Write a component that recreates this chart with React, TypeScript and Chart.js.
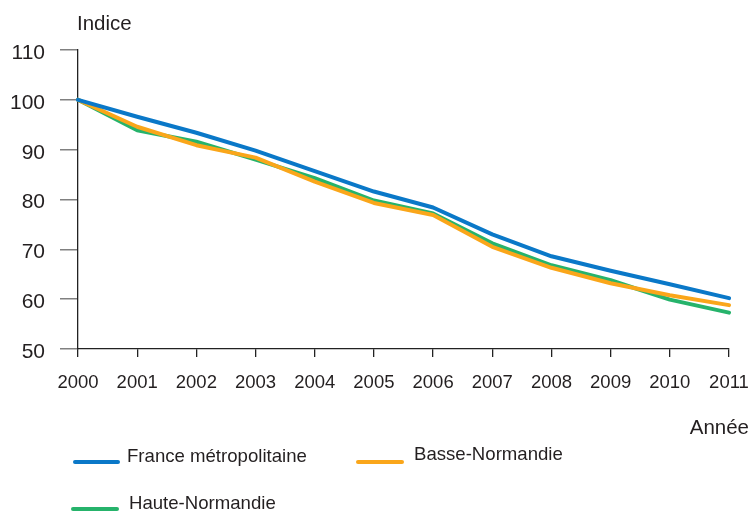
import { useEffect, useRef } from "react";
import { Chart, registerables } from "chart.js";

Chart.register(...registerables);

const years = ["2000", "2001", "2002", "2003", "2004", "2005", "2006", "2007", "2008", "2009", "2010", "2011"];
const france = [100, 96.6, 93.4, 89.8, 85.7, 81.6, 78.4, 73.0, 68.6, 65.7, 63.0, 60.2];
const basse = [100, 94.6, 90.9, 88.4, 83.6, 79.3, 76.9, 70.5, 66.3, 63.2, 60.8, 58.8];
const haute = [100, 93.9, 91.6, 88.0, 84.3, 79.8, 77.2, 71.2, 66.8, 63.8, 59.9, 57.3];
const yTicks = [50, 60, 70, 80, 90, 100, 110];

const seriesNames = ["France métropolitaine", "Basse-Normandie", "Haute-Normandie"];
const seriesColors = ["#0a78c8", "#faa61a", "#26b36b"];
const yTitle = "Indice";
const xTitle = "Année";

const FONT = "'Liberation Sans', Arial, sans-serif";
const TEXT = "#231f20";

const decorPlugin = {
  id: "decor",
  afterDraw(chart: any) {
    const ctx = chart.ctx;
    ctx.save();
    ctx.fillStyle = TEXT;
    ctx.font = `20.5px ${FONT}`;
    ctx.textBaseline = "middle";
    ctx.textAlign = "left";
    ctx.fillText(yTitle, 77, 24);
    ctx.textAlign = "right";
    ctx.fillText(xTitle, 749, 428);

    ctx.font = `18.6px ${FONT}`;
    const legendItems = [
      { x1: 75, x2: 118, ly: 462, tx: 127, ty: 457 },
      { x1: 358, x2: 402, ly: 462, tx: 414, ty: 455 },
      { x1: 73, x2: 117, ly: 509, tx: 129, ty: 504 },
    ];
    legendItems.forEach((it, i) => {
      ctx.strokeStyle = seriesColors[i];
      ctx.lineWidth = 4;
      ctx.lineCap = "round";
      ctx.beginPath();
      ctx.moveTo(it.x1, it.ly);
      ctx.lineTo(it.x2, it.ly);
      ctx.stroke();
      ctx.fillStyle = TEXT;
      ctx.textAlign = "left";
      ctx.fillText(seriesNames[i], it.tx, it.ty);
    });
    ctx.restore();
  },
};

export default function App() {
  const ref = useRef<HTMLCanvasElement | null>(null);

  useEffect(() => {
    if (!ref.current) return;
    const data = [france, basse, haute];
    const chart = new Chart(ref.current, {
      type: "line",
      data: {
        labels: years,
        datasets: data.map((d, i) => ({
          label: seriesNames[i],
          data: d,
          borderColor: seriesColors[i],
          backgroundColor: seriesColors[i],
          borderWidth: 4,
          pointRadius: 0,
          tension: 0,
          fill: false,
          borderCapStyle: "round" as const,
          borderJoinStyle: "round" as const,
        })),
      },
      options: {
        responsive: false,
        animation: false,
        layout: { padding: { left: 0, right: 23, top: 50, bottom: 124 } },
        plugins: { legend: { display: false }, tooltip: { enabled: false } },
        scales: {
          x: {
            grid: { drawOnChartArea: false, drawTicks: true, tickLength: 8, color: "#222", lineWidth: 1.3 },
            border: { display: true, color: "#222", width: 1.3 },
            ticks: { color: TEXT, font: { family: FONT, size: 18.5 }, padding: 15, maxRotation: 0, autoSkip: false },
            afterFit(scale: any) {
              scale.height = 40;
              scale.paddingLeft = 0;
              scale.paddingRight = 0;
            },
          },
          y: {
            min: 50,
            max: 110,
            afterBuildTicks(scale: any) {
              scale.ticks = yTicks.map((v) => ({ value: v }));
            },
            grid: { drawOnChartArea: false, drawTicks: true, tickLength: 18, color: "#808080", lineWidth: 1.5 },
            border: { display: true, color: "#222", width: 1.3 },
            ticks: {
              color: TEXT,
              font: { family: FONT, size: 21, lineHeight: 0.3 },
              padding: 15,
              callback: (v: any) => ["", String(v)],
            },
            afterFit(scale: any) {
              scale.width = 78;
            },
          },
        },
      },
      plugins: [decorPlugin],
    });
    return () => chart.destroy();
  }, []);

  return (
    <div style={{ position: "absolute", left: 0, top: 0, width: 752, height: 513, background: "#fff" }}>
      <canvas ref={ref} width={752} height={513} />
    </div>
  );
}
